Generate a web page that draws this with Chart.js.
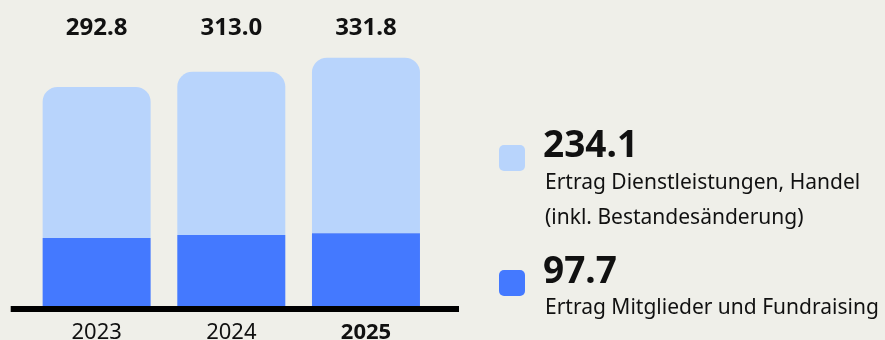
<!DOCTYPE html>
<html lang="de">
<head>
<meta charset="utf-8">
<script src="https://cdn.jsdelivr.net/npm/chart.js@4/dist/chart.umd.min.js"></script>
<style>
  html, body { margin: 0; padding: 0; background: #efefe9; }
  body { width: 885px; height: 340px; position: relative; overflow: hidden;
         font-family: 'Noto Sans', sans-serif; color: #111; }
  #wrap { position: absolute; left: 0; top: 0; width: 885px; height: 340px; }
  .swatch { position: absolute; left: 499px; width: 26px; height: 26px; border-radius: 5px; }
  .big { position: absolute; left: 543px; font-weight: 700; font-size: 37px; line-height: 37px; white-space: nowrap; }
  .txt { position: absolute; left: 545px; font-size: 21px; line-height: 35px; white-space: nowrap; }
</style>
</head>
<body>
<div id="wrap"><canvas id="chart"></canvas></div>

<div class="swatch" id="sw-services" style="top:145px"></div>
<div class="big" id="val-services" style="top:123.6px"></div>
<div class="txt" style="top:164.4px">Ertrag Dienstleistungen, Handel<br>(inkl. Bestandesänderung)</div>

<div class="swatch" id="sw-members" style="top:270px"></div>
<div class="big" id="val-members" style="top:250.3px"></div>
<div class="txt" style="top:289.4px">Ertrag Mitglieder und Fundraising</div>

<script>
/* ── DATA ── */
const years    = ['2023', '2024', '2025'];
const members  = [91.5, 95.3, 97.7];    // Ertrag Mitglieder und Fundraising
const services = [201.3, 217.7, 234.1]; // Ertrag Dienstleistungen, Handel

const COLORS = {
  light: '#b8d4fc',
  blue:  '#4479ff',
  ink:   '#111111',
};

const fmt = v => v.toFixed(1);
const last = years.length - 1;

/* ── LEGEND (2025 values) ── */
document.getElementById('sw-services').style.background = COLORS.light;
document.getElementById('sw-members').style.background   = COLORS.blue;
document.getElementById('val-services').textContent = fmt(services[last]);
document.getElementById('val-members').textContent  = fmt(members[last]);

/* ── PLUGIN: totals on top + heavy baseline ── */
const decorations = {
  id: 'decorations',
  afterDatasetsDraw(chart) {
    const { ctx, chartArea, scales } = chart;
    const y0 = scales.y.getPixelForValue(0);

    ctx.save();
    ctx.strokeStyle = '#000';
    ctx.lineWidth = 6;
    ctx.beginPath();
    ctx.moveTo(chartArea.left - 18.6, y0 + 2.5);
    ctx.lineTo(chartArea.right + 25.7, y0 + 2.5);
    ctx.stroke();

    ctx.fillStyle = COLORS.ink;
    ctx.font = "bold 24px 'Noto Sans', sans-serif";
    ctx.textAlign = 'center';
    ctx.textBaseline = 'alphabetic';
    const meta = chart.getDatasetMeta(1);
    meta.data.forEach((bar, i) => {
      ctx.fillText(fmt(members[i] + services[i]), bar.x, chartArea.top + 28.5);
    });
    ctx.restore();
  },
};

/* ── CHART ── */
new Chart(document.getElementById('chart'), {
  type: 'bar',
  data: {
    labels: years,
    datasets: [
      { label: 'Ertrag Mitglieder und Fundraising', data: members,
        backgroundColor: COLORS.blue, borderRadius: 0, borderSkipped: false },
      { label: 'Ertrag Dienstleistungen, Handel', data: services,
        backgroundColor: COLORS.light,
        borderRadius: { topLeft: 15, topRight: 15, bottomLeft: 0, bottomRight: 0 },
        borderSkipped: false },
    ],
  },
  options: {
    responsive: true, maintainAspectRatio: false,
    animation: false,
    layout: { padding: { left: 29.3, right: 451.7, top: 6.5, bottom: 0 } },
    barPercentage: 0.802, categoryPercentage: 1.0,
    plugins: { legend: { display: false }, tooltip: { enabled: false } },
    scales: {
      x: {
        stacked: true,
        grid: { display: false, drawTicks: false },
        border: { display: false },
        afterFit: scale => { scale.height = 33.5; },
        ticks: {
          padding: 17.2,
          color: COLORS.ink,
          font: ctx => ({
            family: "'Noto Sans', sans-serif", size: 22, lineHeight: 0.8,
            weight: ctx.index === last ? 'bold' : 'normal',
          }),
        },
      },
      y: { stacked: true, display: false, min: 0, max: 400 },
    },
  },
  plugins: [decorations],
});
</script>
</body>
</html>
